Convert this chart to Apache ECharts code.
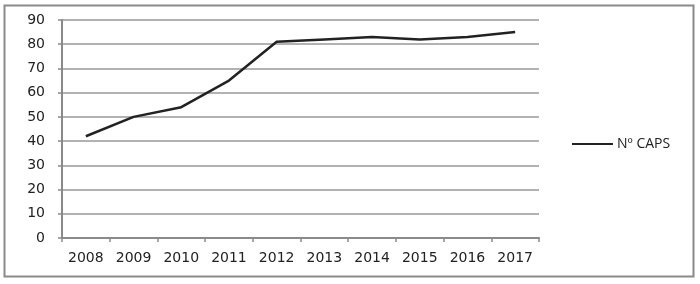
<!DOCTYPE html>
<html>
<head>
<meta charset="utf-8">
<script src="https://cdn.jsdelivr.net/npm/echarts@6/dist/echarts.min.js"></script>
<style>
html,body{margin:0;padding:0;background:#fff;}
#chart{width:700px;height:284px;}
</style>
</head>
<body>
<div id="chart"></div>
<script>
const categories = ['2008','2009','2010','2011','2012','2013','2014','2015','2016','2017'];
const seriesName = 'Nº CAPS';
const values = [42, 50, 54, 65, 81, 82, 83, 82, 83, 85];
const yTicks = { min: 0, max: 90, interval: 10 };

const chart = echarts.init(document.getElementById('chart'), null, {renderer:'canvas'});
chart.setOption({
  animation: false,
  backgroundColor: '#fff',
  graphic: [{
    type: 'rect',
    shape: { x: 4.5, y: 5.5, width: 689, height: 271 },
    style: { fill: 'none', stroke: '#8a8a8a', lineWidth: 2 },
    silent: true
  }],
  grid: { left: 62, right: 161, top: 20, bottom: 46, containLabel: false },
  legend: {
    data: [seriesName],
    left: 567, top: 132,
    itemWidth: 41, itemHeight: 14, itemGap: 5,
    icon: 'path://M0,6 L40,6 L40,8 L0,8 Z',
    textStyle: { fontFamily: 'Open Sans', fontSize: 14, color: '#222', padding: [0,0,0,-1] }
  },
  xAxis: {
    type: 'category',
    data: categories,
    boundaryGap: true,
    axisLine: { lineStyle: { color: '#8a8a8a', width: 2 } },
    axisTick: { show: true, alignWithLabel: false, length: 4, lineStyle: { color: '#8a8a8a', width: 1.5 } },
    axisLabel: { fontFamily: 'DejaVu Sans', fontSize: 14, color: '#222', margin: 13 }
  },
  yAxis: {
    type: 'value',
    min: yTicks.min, max: yTicks.max, interval: yTicks.interval,
    axisLine: { show: true, lineStyle: { color: '#8a8a8a', width: 2 } },
    axisTick: { show: true, length: 4, lineStyle: { color: '#8a8a8a', width: 1.5 } },
    axisLabel: { fontFamily: 'DejaVu Sans', fontSize: 14, color: '#222', margin: 17 },
    splitLine: { show: true, lineStyle: { color: '#999', width: 1.5 } }
  },
  series: [{
    name: seriesName,
    type: 'line',
    data: values,
    symbol: 'none',
    lineStyle: { color: '#222', width: 2.5 },
    itemStyle: { color: '#222' }
  }]
});
</script>
</body>
</html>
